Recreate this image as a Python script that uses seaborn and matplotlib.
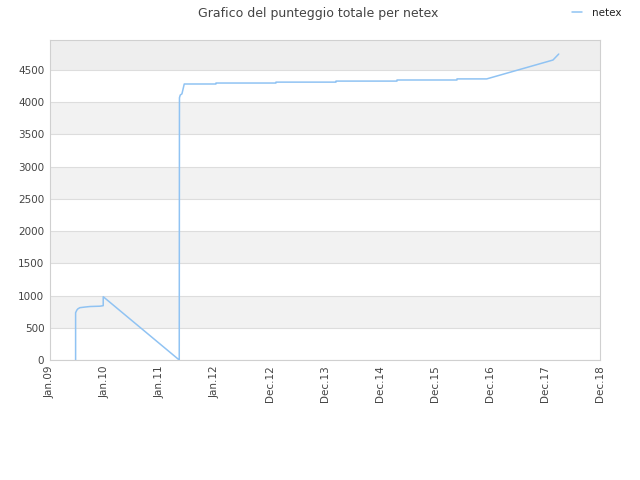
import matplotlib.pyplot as plt
import numpy as np
import pandas as pd
import seaborn as sns

# x = years since Jan.09
tempo = [0.467, 0.467, 0.49, 0.51, 0.545, 0.64, 0.73, 0.91, 0.969, 0.969,
         2.351, 2.355, 2.37, 2.40, 2.442, 3.018, 3.018, 4.109, 4.109,
         5.20, 5.20, 6.309, 6.309, 7.40, 7.40, 7.94, 9.145, 9.25]
punteggio = [0, 734, 775, 795, 812, 822, 830, 835, 843, 982,
             0, 4070, 4112, 4130, 4283, 4283, 4298, 4298, 4312,
             4312, 4328, 4328, 4345, 4345, 4362, 4362, 4655, 4748]

tick_labels = ["Jan.09", "Jan.10", "Jan.11", "Jan.12", "Dec.12", "Dec.13",
               "Dec.14", "Dec.15", "Dec.16", "Dec.17", "Dec.18"]

df = pd.DataFrame({"tempo": tempo, "punteggio": punteggio, "utente": "netex"})

sns.set_style("white")
plt.rcParams["font.family"] = ["DejaVu Sans"]

fig = plt.figure(figsize=(6.4, 4.8), dpi=100)
ax = fig.add_axes([0.078, 0.25, 0.8595, 0.6667])

ymax = 4966
for i, lo in enumerate(range(0, 5000, 500)):
    hi = min(lo + 500, ymax)
    if lo >= 4500:
        ax.axhspan(lo, hi, color="#eeeeee", zorder=0, lw=0)
    elif i % 2 == 1:
        ax.axhspan(lo, hi, color="#f2f2f2", zorder=0, lw=0)

sns.lineplot(data=df, x="tempo", y="punteggio", hue="utente", sort=False,
             palette=["#90c3f3"], linewidth=1.1, ax=ax, estimator=None)

ax.set_xlim(0, 10)
ax.set_ylim(0, ymax)
ax.set_xticks(np.arange(len(tick_labels)))
ax.set_xticklabels(tick_labels, rotation=90)
ax.set_yticks(np.arange(0, 5000, 500))
ax.yaxis.grid(True, color="#dddddd", lw=0.8)
ax.set_axisbelow(True)
ax.tick_params(labelsize=7.5, colors="#444444", length=0, pad=4)
for s in ax.spines.values():
    s.set_color("#d0d0d0")
    s.set_linewidth(0.8)
ax.set_xlabel("")
ax.set_ylabel("")

fig.suptitle("Grafico del punteggio totale per netex", x=0.497, y=0.985,
             fontsize=9, color="#444444")
leg = ax.legend(loc="upper right", bbox_to_anchor=(1.057, 1.13), frameon=False,
                fontsize=7.5, handlelength=1.0, handletextpad=1.0, title=None)
for t in leg.get_texts():
    t.set_color("#222222")

fig.savefig("out.png", dpi=100)
